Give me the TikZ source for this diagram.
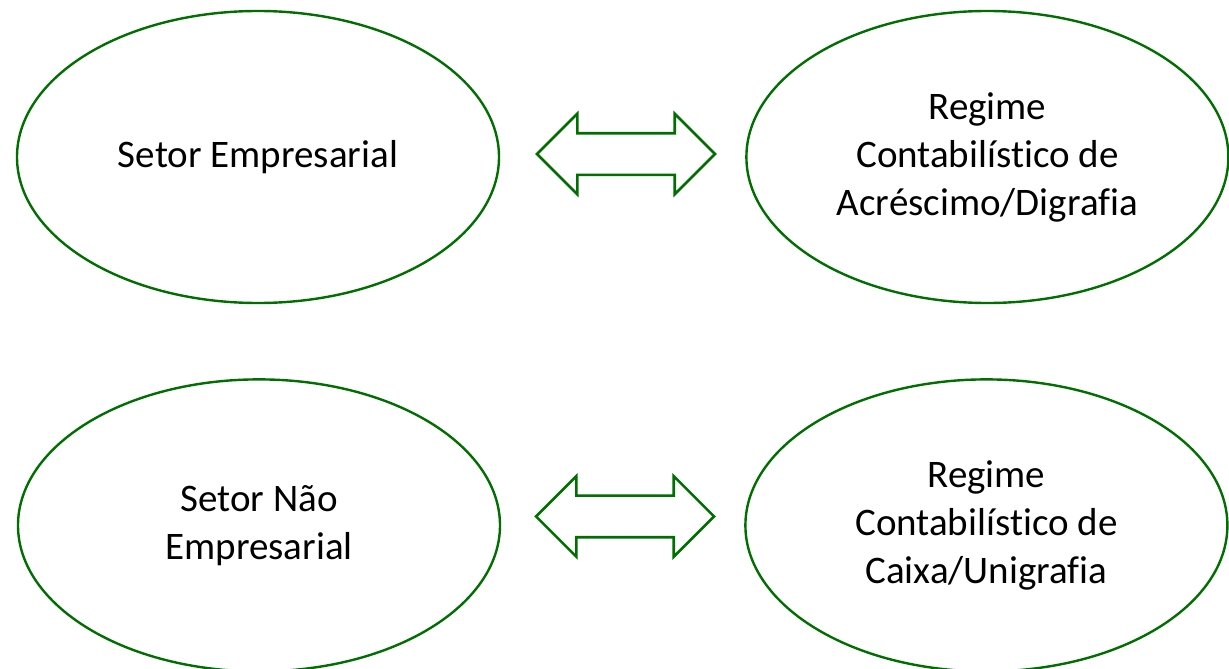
\documentclass[tikz,border=0pt]{standalone}
\usepackage{fontspec}
\setmainfont{Carlito}[Ligatures=NoCommon]
\usetikzlibrary{shapes.geometric}
\usetikzlibrary{shapes.arrows}
\usetikzlibrary{positioning}
\definecolor{borda}{RGB}{0,110,0}

\begin{document}
\begin{tikzpicture}[x=1pt,y=-1pt,
  setor/.style={draw=borda,line width=2.4pt,ellipse,minimum width=482pt,minimum height=292pt,inner sep=0pt,align=center,font=\fontsize{39}{48}\selectfont},
  seta/.style={draw=borda,line width=2.6pt,double arrow,double arrow head extend=19.5pt,minimum height=178pt,minimum width=78pt,inner xsep=0pt,inner ysep=19.5pt}]
\useasboundingbox (0,0) rectangle (1229,669);
% top row
\node[setor] (empresa) at (258,157) {Setor Empresarial};
\node[setor] (acrescimo) [right=245pt of empresa] {Regime\\Contabilístico de\\Acréscimo/Digrafia};
% bottom row
\node[setor] (naoempresa) [below=74pt of empresa, xshift=1pt] {Setor Não\\Empresarial};
\node[setor] (caixa) [right=243pt of naoempresa] {Regime\\Contabilístico de\\Caixa/Unigrafia};
% arrows
\node[seta] (seta1) [right=35pt of empresa, yshift=3pt] {};
\node[seta] (seta2) [right=33pt of naoempresa, yshift=9pt] {};
\end{tikzpicture}
\end{document}
